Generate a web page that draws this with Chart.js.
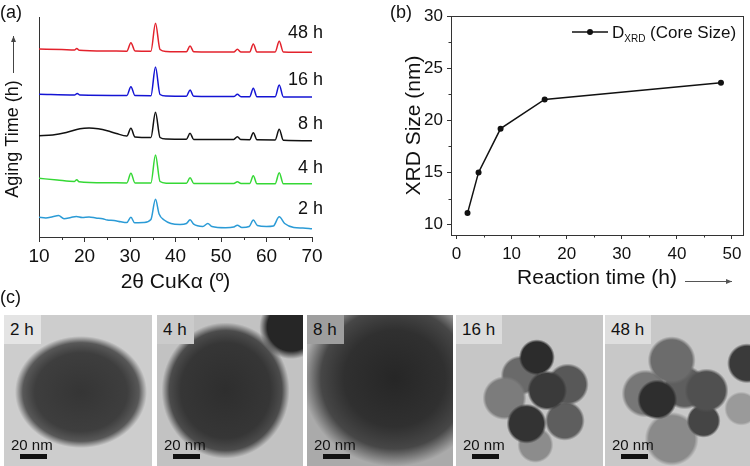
<!DOCTYPE html>
<html>
<head>
<meta charset="utf-8">
<script src="https://cdn.jsdelivr.net/npm/chart.js@4.4.1/dist/chart.umd.min.js"></script>
<style>
    body { margin: 0; background: #fff; font-family: "Liberation Sans", Arial, sans-serif; }
    #wrap { position: relative; width: 750px; height: 466px; overflow: hidden; }
    canvas { position: absolute; }
    .tag { position: absolute; font-size: 18px; color: #111; }
    .tem { position: absolute; top: 315px; height: 151px; overflow: hidden; }
    .tem .lbl { position: absolute; left: 0; top: 0; padding: 5px 7px 4px 6px; font-size: 17px; color: #111; }
    .tem .nm { position: absolute; left: 7px; top: 121px; font-size: 15px; color: #111; }
    .tem .bar { position: absolute; left: 16px; top: 139px; width: 27px; height: 5px; background: #111; }
</style>
</head>
<body>
<div id="wrap">
    <canvas id="xrdChart" width="335" height="300" style="left:0;top:0"></canvas>
    <canvas id="sizeChart" width="380" height="300" style="left:370px;top:0"></canvas>

    <div class="tag" style="left:0;top:2px">(a)</div>
    <div class="tag" style="left:390px;top:2px">(b)</div>
    <div class="tag" style="left:0;top:287px">(c)</div>

    <div class="tem" style="left:4px;width:148px;background:
        radial-gradient(ellipse 66px 56px at 52% 51%, #353535 0%, #3e3e3e 70%, #585858 88%, rgba(200,200,200,0) 100%),
        #cdcdcd;">
        <div class="lbl" style="background:#e4e4e4">2 h</div>
        <div class="nm">20 nm</div><div class="bar"></div>
    </div>
    <div class="tem" style="left:157px;width:146px;background:
        radial-gradient(circle 32px at 92% 8%, #262626 75%, rgba(40,40,40,0) 100%),
        radial-gradient(ellipse 64px 68px at 47% 50%, #2e2e2e 0%, #363636 70%, #4c4c4c 88%, rgba(190,190,190,0) 100%),
        #c2c2c2;">
        <div class="lbl" style="background:#cbcbcb">4 h</div>
        <div class="nm">20 nm</div><div class="bar"></div>
    </div>
    <div class="tem" style="left:307px;width:146px;background:
        radial-gradient(ellipse 92px 88px at 60% 42%, #262626 0%, #303030 55%, #474747 80%, rgba(170,170,170,0) 100%),
        #aaaaaa;">
        <div class="lbl" style="background:#9e9e9e">8 h</div>
        <div class="nm">20 nm</div><div class="bar"></div>
    </div>
    <div class="tem" style="left:456px;width:147px;background:
        radial-gradient(circle 18px at 55% 28%, #2c2c2c 85%, rgba(0,0,0,0) 100%),
        radial-gradient(circle 20px at 62% 50%, #3a3a3a 85%, rgba(0,0,0,0) 100%),
        radial-gradient(circle 20px at 48% 72%, #333 85%, rgba(0,0,0,0) 100%),
        radial-gradient(circle 21px at 76% 46%, #585858 85%, rgba(0,0,0,0) 100%),
        radial-gradient(circle 20px at 74% 70%, #5e5e5e 85%, rgba(0,0,0,0) 100%),
        radial-gradient(circle 22px at 33% 55%, #7c7c7c 85%, rgba(0,0,0,0) 100%),
        radial-gradient(circle 18px at 54% 86%, #8c8c8c 85%, rgba(0,0,0,0) 100%),
        radial-gradient(circle 20px at 44% 40%, #6a6a6a 85%, rgba(0,0,0,0) 100%),
        #c6c6c6;">
        <div class="lbl" style="background:#dcdcdc">16 h</div>
        <div class="nm">20 nm</div><div class="bar"></div>
    </div>
    <div class="tem" style="left:605px;width:145px;background:
        radial-gradient(circle 20px at 36% 56%, #2e2e2e 85%, rgba(0,0,0,0) 100%),
        radial-gradient(circle 24px at 46% 30%, #6c6c6c 85%, rgba(0,0,0,0) 100%),
        radial-gradient(circle 22px at 70% 50%, #505050 85%, rgba(0,0,0,0) 100%),
        radial-gradient(circle 17px at 68% 70%, #454545 85%, rgba(0,0,0,0) 100%),
        radial-gradient(circle 24px at 28% 52%, #777 85%, rgba(0,0,0,0) 100%),
        radial-gradient(circle 27px at 46% 82%, #8a8a8a 85%, rgba(0,0,0,0) 100%),
        radial-gradient(circle 20px at 98% 32%, #3a3a3a 85%, rgba(0,0,0,0) 100%),
        radial-gradient(circle 17px at 94% 62%, #9a9a9a 85%, rgba(0,0,0,0) 100%),
        radial-gradient(circle 22px at 55% 48%, #5e5e5e 85%, rgba(0,0,0,0) 100%),
        #c8c8c8;">
        <div class="lbl" style="background:#dedede">48 h</div>
        <div class="nm">20 nm</div><div class="bar"></div>
    </div>
</div>

<script>
/* ---------- panel (a): XRD patterns, offset intensities ---------- */

const xrdLabels = ["48 h", "16 h", "8 h", "4 h", "2 h"];
const xrdColors = ["#e3222c", "#1414d4", "#111111", "#35d835", "#2b9bd6"];
const xrdLabelY = [204, 157, 113, 69, 28];

const xrd48h = [
    [10, 188], [15, 187.5], [17.8, 187], [18.3, 188.5], [18.8, 186.8], [25, 186],
    [29.3, 185.8], [30.2, 194.3], [31.1, 186], [34.6, 185.8], [35.6, 213.7], [36.6, 187.5],
    [38, 185.6], [42.4, 185.3], [43.2, 191], [44, 185.3], [52.8, 185], [53.6, 187.7],
    [54.4, 185], [56.3, 185], [57.1, 193], [57.9, 185], [61.9, 185], [62.8, 195.7],
    [63.7, 185], [70, 184.7]
];
const xrd16h = [
    [10, 142.7], [17.8, 142], [18.4, 143.5], [19, 141.9], [29.3, 141.5], [30.2, 150.3],
    [31.1, 141.4], [34.6, 141.3], [35.6, 170], [36.6, 142.5], [38, 141], [42.4, 140.8],
    [43.2, 147], [44, 140.7], [52.8, 140.4], [53.6, 142.7], [54.4, 140.3], [56.3, 140.3],
    [57.1, 148.7], [57.9, 140.2], [61.9, 140.2], [62.8, 152], [63.7, 140.1], [70, 140]
];
const xrd8h = [
    [10, 101.3], [13, 102], [16, 104.5], [19, 108.3], [21, 109], [23, 108.2], [25, 106.3],
    [27, 103.5], [29.3, 101], [30.2, 108.7], [31.1, 100], [34.6, 99.5], [35.6, 124.7],
    [36.6, 99.5], [38, 98], [42.4, 97.8], [43.2, 103.7], [44, 97.6], [52.8, 97.5],
    [53.6, 100.3], [54.4, 97.4], [56.3, 97.3], [57.1, 104.3], [57.9, 97.2], [61.9, 97.1],
    [62.8, 107.7], [63.7, 96.8], [70, 96.3]
];
const xrd4h = [
    [10, 58.7], [14, 57], [17.8, 55.6], [18.3, 57.2], [18.8, 55.3], [25, 54.3], [29.3, 54],
    [30.2, 63.7], [31.1, 54], [34.6, 54], [35.6, 82], [36.6, 55.5], [38, 53.8], [42.4, 53.7],
    [43.2, 59.3], [44, 53.6], [52.8, 53.5], [53.6, 55.3], [54.4, 53.4], [56.3, 53.4],
    [57.1, 61.3], [57.9, 53.3], [61.9, 53.3], [62.8, 64.3], [63.7, 53.3], [70, 53.3]
];
const xrd2h = [
    [10, 19.7], [11.5, 19], [13, 20.3], [14.3, 21.5], [15.5, 18.3], [17, 19.5], [18.2, 20.5],
    [19.5, 19.5], [21, 20], [22.5, 19], [24, 18.2], [25, 17], [26.5, 16.5], [28, 15.2],
    [29.3, 14.5], [30.2, 19.7], [31, 14.2], [33, 14.5], [34.6, 17.5], [35.6, 37.7],
    [36.4, 23], [37.5, 17], [39, 13.5], [41, 12.5], [42.4, 13.5], [43.2, 17.2], [44, 12.8],
    [46, 10.5], [47.1, 13.5], [48, 10.5], [51, 9.3], [52.8, 10], [53.6, 11.8], [54.6, 9.5],
    [56.2, 10.5], [57.1, 17], [58, 11.5], [60, 10.5], [61.5, 11], [62.8, 20.3], [64, 13.5],
    [66, 9.5], [68, 9], [70, 8.3]
];
const xrdSeries = [xrd48h, xrd16h, xrd8h, xrd4h, xrd2h];
const xrdMinorTicks = [15, 25, 35, 45, 55, 65];

/* ---------- panel (b): crystallite size vs. reaction time ---------- */

const reactionHours = [2, 4, 8, 16, 48];
const xrdSizeNm = [11.1, 15.0, 19.2, 22.0, 23.6];
const sizeMinorX = [5, 15, 25, 35, 45];
const sizeMinorY = [12.5, 17.5, 22.5, 27.5];

const FONT = "'Liberation Sans', Arial, sans-serif";

function drawArrow(ctx, x1, y1, x2, y2) {
    const a = Math.atan2(y2 - y1, x2 - x1);
    ctx.beginPath();
    ctx.moveTo(x1, y1);
    ctx.lineTo(x2, y2);
    ctx.stroke();
    ctx.beginPath();
    ctx.moveTo(x2, y2);
    ctx.lineTo(x2 - 6 * Math.cos(a) + 2.5 * Math.sin(a), y2 - 6 * Math.sin(a) - 2.5 * Math.cos(a));
    ctx.lineTo(x2 - 6 * Math.cos(a) - 2.5 * Math.sin(a), y2 - 6 * Math.sin(a) + 2.5 * Math.cos(a));
    ctx.closePath();
    ctx.fill();
}

const xrdDecor = {
    id: "xrdDecor",
    afterDraw(chart) {
        const { ctx, chartArea, scales: { x, y } } = chart;
        ctx.save();
        ctx.strokeStyle = "#333";
        ctx.fillStyle = "#333";
        ctx.lineWidth = 1;
        xrdMinorTicks.forEach(v => {
            const px = Math.round(x.getPixelForValue(v)) + 0.5;
            ctx.beginPath();
            ctx.moveTo(px, chartArea.bottom);
            ctx.lineTo(px, chartArea.bottom + 3);
            ctx.stroke();
        });

        ctx.fillStyle = "#111";
        ctx.font = "18px " + FONT;
        ctx.textAlign = "right";
        ctx.textBaseline = "middle";
        xrdLabels.forEach((t, i) => {
            ctx.fillText(t, chartArea.right + 11, y.getPixelForValue(xrdLabelY[i]));
        });

        // rotated y title with arrow
        ctx.save();
        ctx.translate(13, 139);
        ctx.rotate(-Math.PI / 2);
        ctx.textAlign = "center";
        ctx.fillText("Aging Time (h)", 0, 0);
        ctx.restore();
        ctx.strokeStyle = "#444";
        ctx.fillStyle = "#444";
        drawArrow(ctx, 13.5, 73, 13.5, 36);
        ctx.restore();
    }
};

new Chart(document.getElementById("xrdChart"), {
    type: "line",
    data: {
        datasets: xrdSeries.map((s, i) => ({
            label: xrdLabels[i],
            data: s.map(p => ({ x: p[0], y: p[1] })),
            borderColor: xrdColors[i],
            borderWidth: 1.5,
            pointRadius: 0,
            cubicInterpolationMode: "monotone",
            fill: false
        }))
    },
    options: {
        responsive: false,
        animation: false,
        layout: { padding: { top: 17, right: 23, left: 0, bottom: 0 } },
        plugins: { legend: { display: false }, tooltip: { enabled: false } },
        scales: {
            x: {
                type: "linear",
                min: 10,
                max: 70,
                afterFit: s => { s.height = 63; },
                ticks: {
                    stepSize: 10,
                    color: "#111",
                    padding: 3,
                    font: { family: FONT, size: 19 }
                },
                grid: { drawOnChartArea: false, tickLength: 5, color: "#333" },
                border: { color: "#333", width: 1 },
                title: {
                    display: true,
                    text: "2θ CuKα (º)",
                    color: "#111",
                    font: { family: FONT, size: 21 },
                    padding: { top: 0, bottom: 5 }
                }
            },
            y: {
                min: 0,
                max: 220,
                afterFit: s => { s.width = 39; },
                ticks: { display: false },
                grid: { display: false, drawTicks: false },
                border: { display: true, color: "#333", width: 1 }
            }
        }
    },
    plugins: [xrdDecor]
});

const sizeDecor = {
    id: "sizeDecor",
    afterDraw(chart) {
        const { ctx, chartArea: a, scales: { x, y } } = chart;
        ctx.save();
        ctx.strokeStyle = "#333";
        ctx.fillStyle = "#333";
        ctx.lineWidth = 1;
        ctx.strokeRect(Math.round(a.left) + 0.5, Math.round(a.top) + 0.5,
            Math.round(a.right - a.left), Math.round(a.bottom - a.top));
        sizeMinorX.forEach(v => {
            const px = Math.round(x.getPixelForValue(v)) + 0.5;
            ctx.beginPath();
            ctx.moveTo(px, a.bottom);
            ctx.lineTo(px, a.bottom + 2.5);
            ctx.stroke();
        });
        sizeMinorY.forEach(v => {
            const py = Math.round(y.getPixelForValue(v)) + 0.5;
            ctx.beginPath();
            ctx.moveTo(a.left, py);
            ctx.lineTo(a.left - 2.5, py);
            ctx.stroke();
        });

        // arrow after x title
        ctx.strokeStyle = "#555";
        ctx.fillStyle = "#555";
        drawArrow(ctx, 315, 281.5, 362, 281.5);

        // legend with subscript
        const ly = 32;
        ctx.strokeStyle = "#111";
        ctx.fillStyle = "#111";
        ctx.lineWidth = 1.5;
        ctx.beginPath();
        ctx.moveTo(202, ly);
        ctx.lineTo(238, ly);
        ctx.stroke();
        ctx.beginPath();
        ctx.arc(220, ly, 3, 0, Math.PI * 2);
        ctx.fill();
        ctx.textBaseline = "alphabetic";
        ctx.textAlign = "left";
        let tx = 242;
        ctx.font = "17px " + FONT;
        ctx.fillText("D", tx, ly + 6);
        tx += ctx.measureText("D").width;
        ctx.font = "10px " + FONT;
        ctx.fillText("XRD", tx, ly + 10);
        tx += ctx.measureText("XRD").width;
        ctx.font = "17px " + FONT;
        ctx.fillText(" (Core Size)", tx, ly + 6);
        ctx.restore();
    }
};

new Chart(document.getElementById("sizeChart"), {
    type: "line",
    data: {
        datasets: [{
            label: "D_XRD (Core Size)",
            data: reactionHours.map((h, i) => ({ x: h, y: xrdSizeNm[i] })),
            borderColor: "#111",
            backgroundColor: "#111",
            borderWidth: 1.5,
            pointRadius: 3,
            pointBorderWidth: 0,
            fill: false
        }]
    },
    options: {
        responsive: false,
        animation: false,
        layout: { padding: { top: 16, right: 7, left: 0, bottom: 0 } },
        plugins: { legend: { display: false }, tooltip: { enabled: false } },
        scales: {
            x: {
                type: "linear",
                min: -1,
                max: 52,
                afterFit: s => { s.height = 65; },
                afterBuildTicks: s => { s.ticks = [0, 10, 20, 30, 40, 50].map(v => ({ value: v })); },
                ticks: { color: "#111", padding: 5, font: { family: FONT, size: 17 } },
                grid: { drawOnChartArea: false, tickLength: 4, color: "#333" },
                border: { color: "#333", width: 1 },
                title: {
                    display: true,
                    text: "Reaction time (h)",
                    color: "#111",
                    font: { family: FONT, size: 21 },
                    padding: { top: 0, bottom: 9 }
                }
            },
            y: {
                min: 9,
                max: 30,
                afterFit: s => { s.width = 81; },
                afterBuildTicks: s => { s.ticks = [10, 15, 20, 25, 30].map(v => ({ value: v })); },
                ticks: { color: "#111", padding: 4, font: { family: FONT, size: 17 } },
                grid: { drawOnChartArea: false, tickLength: 4, color: "#333" },
                border: { color: "#333", width: 1 },
                title: {
                    display: true,
                    text: "XRD Size (nm)",
                    color: "#111",
                    font: { family: FONT, size: 21 },
                    padding: { top: 32, bottom: 0 }
                }
            }
        }
    },
    plugins: [sizeDecor]
});
</script>
</body>
</html>
